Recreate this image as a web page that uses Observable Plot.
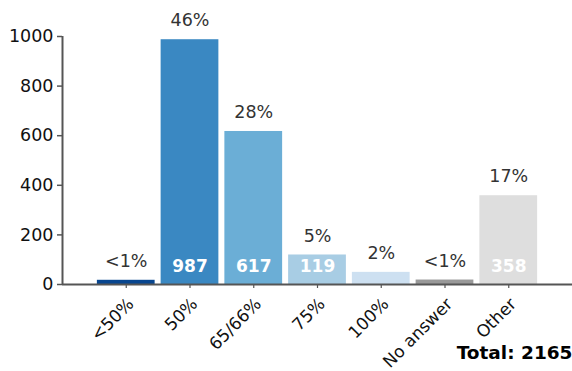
<!DOCTYPE html>
<html>
<head>
<meta charset="utf-8">
<script src="https://cdn.jsdelivr.net/npm/d3@7"></script>
<script src="https://cdn.jsdelivr.net/npm/@observablehq/plot@0.6"></script>
<style>
  html, body { margin: 0; padding: 0; background: #fff; }
  svg { font-family: "DejaVu Sans", sans-serif; }
</style>
</head>
<body>
<div id="chart"></div>
<script>
const categories = ["<50%", "50%", "65/66%", "75%", "100%", "No answer", "Other"];
const counts = [17, 987, 617, 119, 49, 18, 358];
const pctLabels = ["<1%", "46%", "28%", "5%", "2%", "<1%", "17%"];
const colors = ["#08468f", "#3a88c2", "#6baed6", "#a8cde4", "#cde0f1", "#999999", "#dedede"];
const showCount = [false, true, true, true, false, false, true];
const yTicks = [0, 200, 400, 600, 800, 1000];
const totalLabel = "Total: 2165";

const data = categories.map((c, i) => ({i, cat: c, n: counts[i], pct: pctLabels[i], color: colors[i], show: showCount[i]}));

const chart = Plot.plot({
  width: 572,
  height: 371,
  marginLeft: 62,
  marginRight: 0,
  marginTop: 36,
  marginBottom: 87,
  style: {fontFamily: "DejaVu Sans, sans-serif", background: "#fff", overflow: "visible"},
  x: {type: "linear", domain: [-1, 7], label: null},
  y: {domain: [0, 1000], label: null},
  marks: [
    Plot.rectY(data, {x1: d => d.i - 0.453, x2: d => d.i + 0.453, y1: 0, y2: "n", fill: "color"}),
    Plot.ruleY([0], {stroke: "#555", strokeWidth: 2}),
    Plot.ruleX([-1], {stroke: "#555", strokeWidth: 2}),
    Plot.axisY({ticks: yTicks, tickSize: 5, tickPadding: 4, fontSize: 17.5, tickFormat: d => String(d), stroke: "#555", strokeWidth: 1.5, color: "#111", label: null}),
    Plot.axisX({ticks: d3.range(categories.length), tickFormat: () => "", tickSize: 4, stroke: "#555", strokeWidth: 1.2, label: null}),
    Plot.text(data, {x: "i", y: 0, text: "cat", rotate: -45, textAnchor: "end", lineAnchor: "top", dx: 0, dy: 12, fontSize: 17, fill: "#111"}),
    Plot.text(data, {x: "i", y: "n", text: "pct", dy: -19, fontSize: 17.5, fill: "#333"}),
    Plot.text(data.filter(d => d.show), {x: "i", y: 0, text: d => String(d.n), dy: -18, fontSize: 17, fontWeight: "bold", fill: "#fff"}),
    Plot.text([totalLabel], {frameAnchor: "bottom-right", text: d => d, dy: 74, textAnchor: "end", fontSize: 18.5, fontWeight: "bold", fill: "#000"})
  ]
});
document.getElementById("chart").appendChild(chart);
</script>
</body>
</html>
